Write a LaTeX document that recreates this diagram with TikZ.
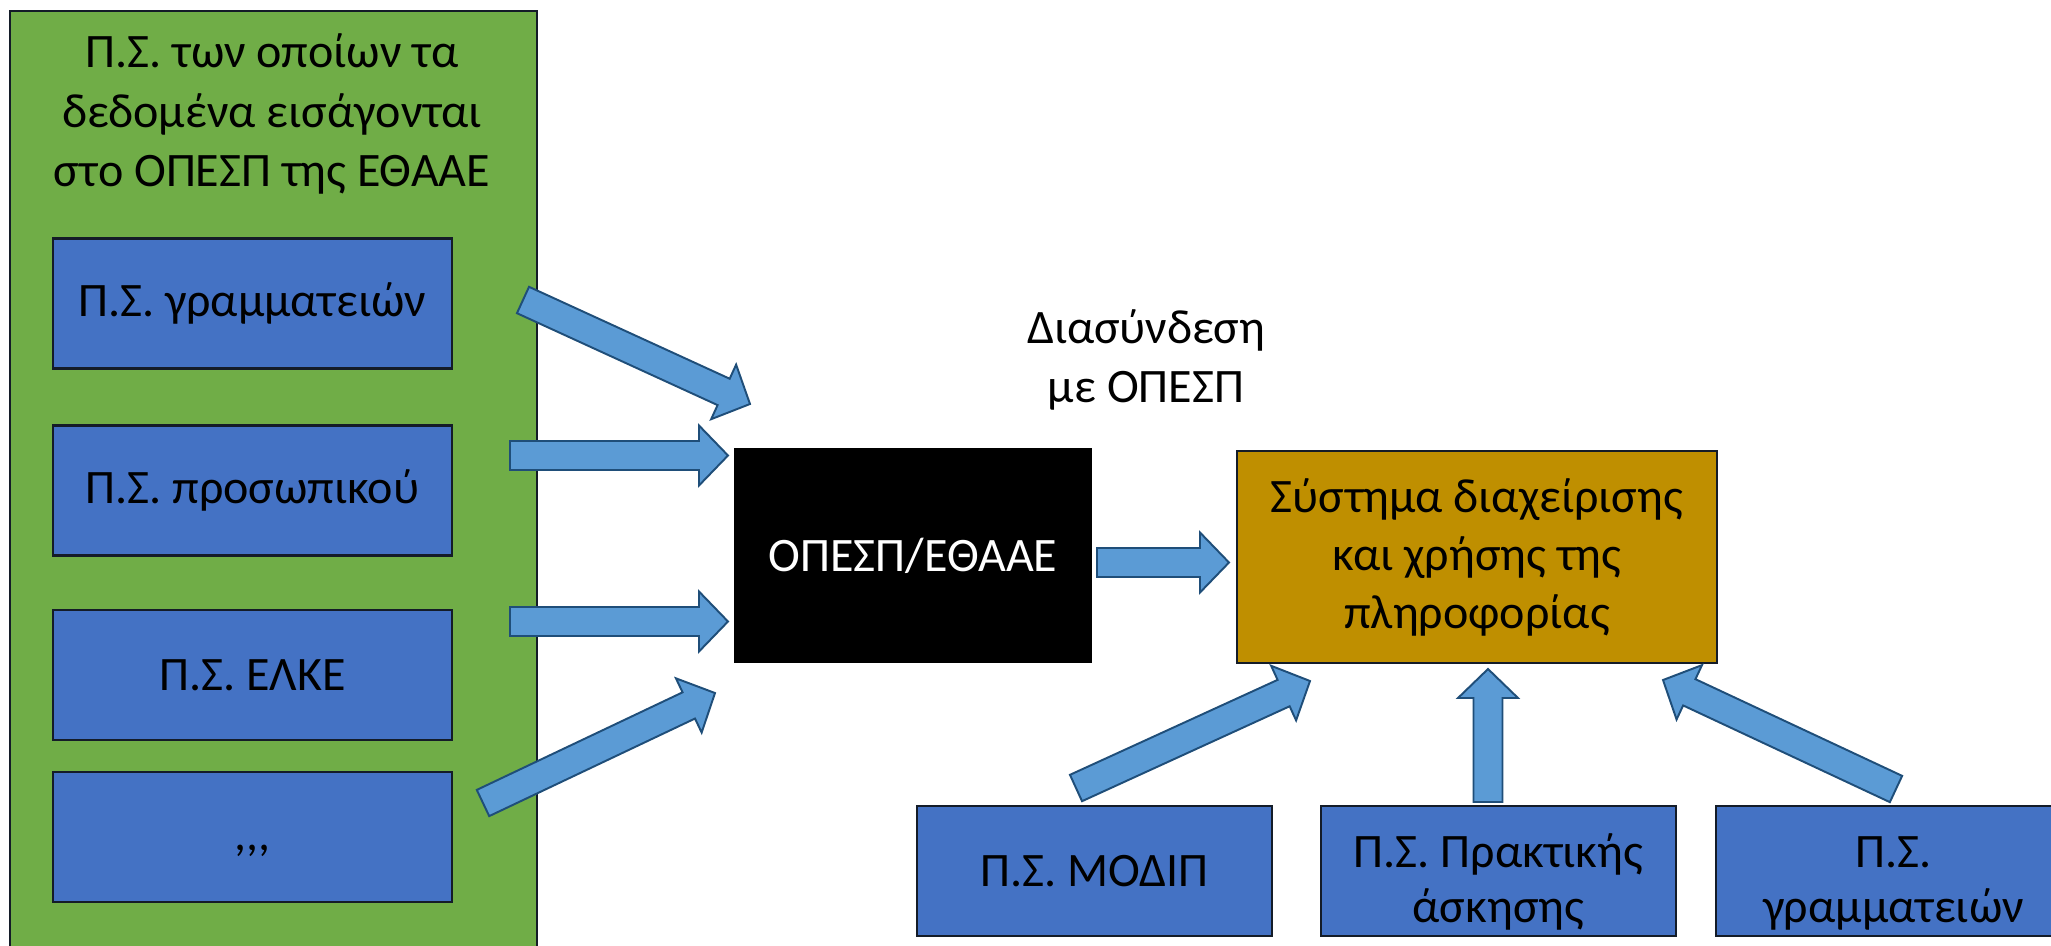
\documentclass[tikz,border=0pt]{standalone}
\usepackage{fontspec}
\setmainfont{Carlito}
\usetikzlibrary{calc}

\definecolor{psblue}{HTML}{4472C4}
\definecolor{psgreen}{HTML}{70AD47}
\definecolor{psgold}{HTML}{BF8F00}
\definecolor{arrowfill}{HTML}{5B9BD5}
\definecolor{arrowline}{HTML}{1F4E79}
\definecolor{boxline}{HTML}{141C28}

\newcommand{\blockarrow}[2]{%
  \coordinate (hb) at ($(#2)!0.29cm!(#1)$);
  \draw[arrowbody] ($(#1)!0.145cm!90:(#2)$) -- ($(hb)!0.145cm!90:(#2)$) -- ($(hb)!0.3cm!90:(#2)$) -- (#2)
    -- ($(hb)!0.3cm!-90:(#2)$) -- ($(hb)!0.145cm!-90:(#2)$) -- ($(#1)!0.145cm!-90:(#2)$) -- cycle;
}

\begin{document}
\begin{tikzpicture}[
	x=0.01cm, y=-0.01cm,
	every node/.style={font=\fontsize{13.66}{16.8}\selectfont, align=center, inner sep=0pt},
	outerbox/.style={draw=boxline, fill=psgreen, line width=0.6pt},
	psbox/.style={draw=boxline, fill=psblue, line width=0.7pt, minimum height=1.30cm},
	lowbox/.style={psbox, minimum width=3.55cm, font=\fontsize{13.66}{15.65}\selectfont},
	opespbox/.style={draw=black, fill=black, text=white, minimum width=3.56cm, minimum height=2.13cm},
	infobox/.style={draw=boxline, fill=psgold, line width=0.7pt, minimum width=4.80cm, minimum height=2.12cm, font=\fontsize{13.66}{16.5}\selectfont},
	arrowbody/.style={draw=arrowline, fill=arrowfill, line width=0.55pt, line join=miter},
]
\useasboundingbox (0,0) rectangle (2051,945);
\fill[white] (0,0) rectangle (2051,945);

\node[outerbox, anchor=north west, minimum width=5.27cm, minimum height=9.6cm] (sys) at (9,10) {};
\node (systitle) at (272,114) {Π.Σ. των οποίων τα\\δεδομένα εισάγονται\\στο ΟΠΕΣΠ της ΕΘΑΑΕ};

\node[psbox, minimum width=3.99cm] (gram) at (252.5,303.5) {Π.Σ. γραμματειών};
\node[psbox, minimum width=3.99cm] (pers) at (252.5,490.5) {Π.Σ. προσωπικού};
\node[psbox, minimum width=3.99cm] (elke) at (252.5,675) {Π.Σ. ΕΛΚΕ};
\node[psbox, minimum width=3.99cm] (etc) at (252.5,837) {\smash{\raisebox{-0.13cm}{,\kern0pt,\kern0pt,}}};

\node[opespbox] (opesp) at (913,555.5) {ΟΠΕΣΠ/ΕΘΑΑΕ};
\node[font=\fontsize{13.66}{17}\selectfont] (link) at (1146,360) {Διασύνδεση\\με ΟΠΕΣΠ};
\node[infobox] (info) at (1477,557) {Σύστημα διαχείρισης\\και χρήσης της\\πληροφορίας};

\node[lowbox] (modip) at (1094.5,871) {Π.Σ. ΜΟΔΙΠ};
\node[lowbox] (prakt) at (1498.5,871) {\rule{0pt}{0.55cm}Π.Σ. Πρακτικής\\άσκησης};
\node[lowbox] (gram2) at (1893.5,871) {\rule{0pt}{0.55cm}Π.Σ.\\γραμματειών};

\coordinate (a1s) at (523,300);   \coordinate (a1e) at (750,404);
\coordinate (a2s) at (510,455.5); \coordinate (a2e) at (728,455.5);
\coordinate (a3s) at (510,621.5); \coordinate (a3e) at (728,621.5);
\coordinate (a4s) at (483,803);   \coordinate (a4e) at (715,693);
\coordinate (a5s) at (1097,562.5); \coordinate (a5e) at (1229,562.5);
\coordinate (a6s) at (1076,788);  \coordinate (a6e) at (1310,681);
\coordinate (a7s) at (1488,802);  \coordinate (a7e) at (1488,669);
\coordinate (a8s) at (1896,789);  \coordinate (a8e) at (1663,680);

\blockarrow{a1s}{a1e}
\blockarrow{a2s}{a2e}
\blockarrow{a3s}{a3e}
\blockarrow{a4s}{a4e}
\blockarrow{a5s}{a5e}
\blockarrow{a6s}{a6e}
\blockarrow{a7s}{a7e}
\blockarrow{a8s}{a8e}
\end{tikzpicture}
\end{document}
